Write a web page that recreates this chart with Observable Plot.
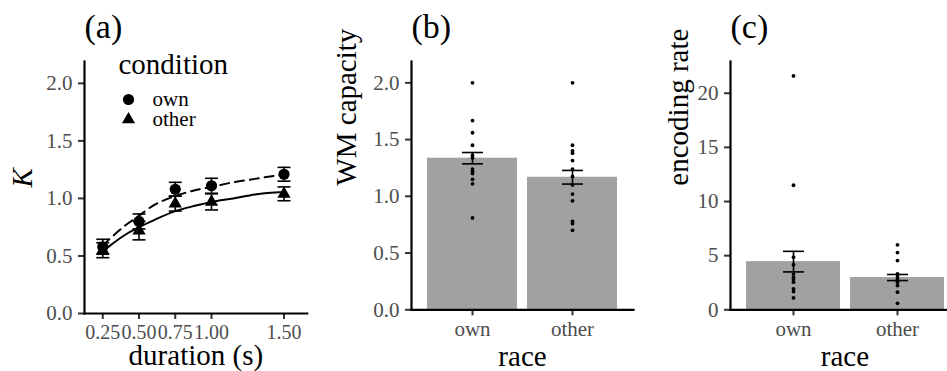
<!DOCTYPE html>
<html>
<head>
<meta charset="utf-8">
<script src="https://cdn.jsdelivr.net/npm/d3@7"></script>
<script src="https://cdn.jsdelivr.net/npm/@observablehq/plot@0.6"></script>
<style>
  html, body { margin: 0; padding: 0; background: #fff; }
  #wrap { position: relative; width: 947px; height: 371px; overflow: hidden; font-family: "Liberation Serif", serif; }
  #wrap > svg { position: absolute; top: 0; }
  #wrap svg, #wrap svg text { font-family: "Liberation Serif", serif !important; }
  g[aria-label="y-axis tick label"], g[aria-label="x-axis tick label"] { fill: #4d4d4d; }
  g[aria-label="y-axis tick"], g[aria-label="x-axis tick"] { stroke: #333; stroke-width: 2px; }
</style>
</head>
<body>
<div id="wrap"></div>
<script>
// ---------- Panel (a): K by duration and condition ----------
const durations = [0.25, 0.5, 0.75, 1.0, 1.5];
const conditions = ["own", "other"];
const ownK = [0.58, 0.80, 1.08, 1.11, 1.21];
const ownKse = [0.065, 0.065, 0.06, 0.065, 0.06];
const otherK = [0.55, 0.72, 0.955, 0.97, 1.04];
const otherKse = [0.065, 0.08, 0.065, 0.07, 0.06];
// fitted curves
const fitDurations = [0.25, 0.3, 0.4, 0.5, 0.6, 0.75, 0.9, 1.0, 1.15, 1.3, 1.5];
const ownFitK = [0.59, 0.65, 0.76, 0.85, 0.94, 1.02, 1.075, 1.10, 1.14, 1.17, 1.21];
const otherFitK = [0.54, 0.59, 0.68, 0.75, 0.81, 0.89, 0.94, 0.97, 1.0, 1.035, 1.055];
const kTicks = [0, 0.5, 1.0, 1.5, 2.0];
const durationTicks = [0.25, 0.5, 0.75, 1.0, 1.5];

// ---------- Panel (b): WM capacity by race ----------
const races = ["own", "other"];
const wmOwn = [2.0, 1.667, 1.56, 1.45, 1.36, 1.34, 1.24, 1.22, 1.2, 1.15, 1.11, 0.81];
const wmOther = [2.0, 1.45, 1.40, 1.38, 1.315, 1.24, 1.175, 1.10, 1.02, 0.96, 0.78, 0.76, 0.70];
const wmMean = [1.336, 1.168];
const wmSE = [0.05, 0.06];
const wmTicks = [0, 0.5, 1.0, 1.5, 2.0];

// ---------- Panel (c): encoding rate by race ----------
const rateOwn = [21.6, 11.5, 4.86, 4.16, 3.3, 3.0, 2.77, 2.55, 1.94, 1.69, 1.1];
const rateOther = [6.0, 5.28, 4.55, 3.32, 3.05, 2.8, 2.55, 2.24, 1.63, 0.6];
const rateMean = [4.45, 2.98];
const rateSE = [0.95, 0.28];
const rateTicks = [0, 5, 10, 15, 20];

// ---------- tables ----------
const kTable = durations.flatMap((d, i) => [
  {condition: "own", duration: d, K: ownK[i], se: ownKse[i]},
  {condition: "other", duration: d, K: otherK[i], se: otherKse[i]}
]);
const ownFit = fitDurations.map((d, i) => ({duration: d, K: ownFitK[i]}));
const otherFit = fitDurations.map((d, i) => ({duration: d, K: otherFitK[i]}));
const wmBars = races.map((r, i) => ({race: r, mean: wmMean[i], se: wmSE[i]}));
const wmDots = [...wmOwn.map(v => ({race: "own", value: v})), ...wmOther.map(v => ({race: "other", value: v}))];
const rateBars = races.map((r, i) => ({race: r, mean: rateMean[i], se: rateSE[i]}));
const rateDots = [...rateOwn.map(v => ({race: "own", value: v})), ...rateOther.map(v => ({race: "other", value: v}))];

const FONT = "Liberation Serif";
const TICK = 21, TITLE = 29;
const capSym = (half) => ({draw(ctx) { ctx.moveTo(-half, 0); ctx.lineTo(half, 0); }});
const style = {fontFamily: FONT, background: "transparent", overflow: "visible"};

function axisLines() {
  return [
    Plot.frame({anchor: "left", stroke: "black", strokeWidth: 2.2}),
    Plot.frame({anchor: "bottom", stroke: "black", strokeWidth: 2.2})
  ];
}
function titleMarks(panel, xTitle, yTitle, yDx, xDy, italic) {
  return [
    Plot.text([panel], {frameAnchor: "top-left", dy: -24, textAnchor: "start", lineAnchor: "bottom", fontSize: 34, fill: "black"}),
    Plot.text([xTitle], {frameAnchor: "bottom", dy: xDy, lineAnchor: "bottom", fontSize: TITLE, fill: "black"}),
    Plot.text([yTitle], {frameAnchor: "left", dx: yDx, rotate: -90, lineAnchor: "bottom", fontSize: TITLE, fill: "black", fontStyle: italic ? "italic" : "normal"})
  ];
}

// ---------- Panel (a) ----------
const chartA = Plot.plot({
  width: 320, height: 371,
  marginLeft: 84, marginRight: 13.3, marginTop: 61, marginBottom: 58,
  style,
  x: {type: "linear", domain: [0.124, 1.66]},
  y: {domain: [0, 2.19]},
  marks: [
    Plot.axisY({ticks: kTicks, tickFormat: d3.format(".1f"), tickSize: 6, tickPadding: 6, fontSize: TICK, label: null}),
    Plot.axisX({ticks: durationTicks, tickFormat: d3.format(".2f"), tickSize: 6, tickPadding: 5, fontSize: 20, label: null}),
    ...axisLines(),
    Plot.line(ownFit, {x: "duration", y: "K", curve: "monotone-x", stroke: "black", strokeWidth: 2, strokeDasharray: "9,6"}),
    Plot.line(otherFit, {x: "duration", y: "K", curve: "monotone-x", stroke: "black", strokeWidth: 2}),
    Plot.ruleX(kTable, {x: "duration", y1: d => d.K - d.se, y2: d => d.K + d.se, stroke: "black", strokeWidth: 1.6}),
    Plot.dot(kTable, {x: "duration", y: d => d.K + d.se, symbol: capSym(6.5), fill: "none", stroke: "black", strokeWidth: 1.6}),
    Plot.dot(kTable, {x: "duration", y: d => d.K - d.se, symbol: capSym(6.5), fill: "none", stroke: "black", strokeWidth: 1.6}),
    Plot.dot(kTable.filter(d => d.condition === "own"), {x: "duration", y: "K", symbol: "circle", r: 5.6, fill: "black", stroke: "none"}),
    Plot.dot(kTable.filter(d => d.condition === "other"), {x: "duration", y: "K", symbol: "triangle", r: 4.9, fill: "black", stroke: "none"}),
    // legend
    Plot.text(["condition"], {frameAnchor: "top-left", dx: 34, dy: 12, textAnchor: "start", lineAnchor: "bottom", fontSize: TITLE, fill: "black"}),
    Plot.dot([conditions[0]], {frameAnchor: "top-left", dx: 44, dy: 38, symbol: "circle", r: 5.6, fill: "black", stroke: "none"}),
    Plot.dot([conditions[1]], {frameAnchor: "top-left", dx: 44, dy: 58, symbol: "triangle", r: 4.9, fill: "black", stroke: "none"}),
    Plot.text([conditions[0]], {frameAnchor: "top-left", dx: 68, dy: 44, textAnchor: "start", lineAnchor: "bottom", fontSize: TICK, fill: "black"}),
    Plot.text([conditions[1]], {frameAnchor: "top-left", dx: 68, dy: 64.5, textAnchor: "start", lineAnchor: "bottom", fontSize: TICK, fill: "black"}),
    ...titleMarks("(a)", "duration (s)", "K", -53, 51, true)
  ]
});
chartA.style.left = "0px";

// ---------- Panel (b) ----------
const chartB = Plot.plot({
  width: 320, height: 371,
  marginLeft: 91, marginRight: 7, marginTop: 61, marginBottom: 61.7,
  style,
  x: {type: "band", domain: races, paddingInner: 0.1, paddingOuter: 0.15},
  y: {domain: [0, 2.188]},
  marks: [
    Plot.barY(wmBars, {x: "race", y: "mean", fill: "#a1a1a1"}),
    Plot.axisY({ticks: wmTicks, tickFormat: d3.format(".1f"), tickSize: 6, tickPadding: 6, fontSize: TICK, label: null}),
    Plot.axisX({tickSize: 6, tickPadding: 5, fontSize: TICK, label: null}),
    ...axisLines(),
    Plot.dot(wmDots, {x: "race", y: "value", r: 1.9, fill: "black", stroke: "none"}),
    Plot.ruleX(wmBars, {x: "race", y1: d => d.mean - d.se, y2: d => d.mean + d.se, stroke: "black", strokeWidth: 1.6}),
    Plot.dot(wmBars, {x: "race", y: d => d.mean + d.se, symbol: capSym(10.5), fill: "none", stroke: "black", strokeWidth: 1.6}),
    Plot.dot(wmBars, {x: "race", y: d => d.mean - d.se, symbol: capSym(10.5), fill: "none", stroke: "black", strokeWidth: 1.6}),
    ...titleMarks("(b)", "race", "WM capacity", -56, 56, false)
  ]
});
chartB.style.left = "320px";

// ---------- Panel (c) ----------
const chartC = Plot.plot({
  width: 320, height: 371,
  marginLeft: 90, marginRight: 1.2, marginTop: 61, marginBottom: 61.7,
  style,
  x: {type: "band", domain: races, paddingInner: 0.1, paddingOuter: 0.15},
  y: {domain: [0, 22.93]},
  marks: [
    Plot.barY(rateBars, {x: "race", y: "mean", fill: "#a1a1a1"}),
    Plot.axisY({ticks: rateTicks, tickSize: 6, tickPadding: 6, fontSize: TICK, label: null}),
    Plot.axisX({tickSize: 6, tickPadding: 5, fontSize: TICK, label: null}),
    ...axisLines(),
    Plot.dot(rateDots, {x: "race", y: "value", r: 1.9, fill: "black", stroke: "none"}),
    Plot.ruleX(rateBars, {x: "race", y1: d => d.mean - d.se, y2: d => d.mean + d.se, stroke: "black", strokeWidth: 1.6}),
    Plot.dot(rateBars, {x: "race", y: d => d.mean + d.se, symbol: capSym(10.5), fill: "none", stroke: "black", strokeWidth: 1.6}),
    Plot.dot(rateBars, {x: "race", y: d => d.mean - d.se, symbol: capSym(10.5), fill: "none", stroke: "black", strokeWidth: 1.6}),
    ...titleMarks("(c)", "race", "encoding rate", -43, 56, false)
  ]
});
chartC.style.left = "640px";

const wrap = document.getElementById("wrap");
wrap.append(chartA, chartB, chartC);
</script>
</body>
</html>
